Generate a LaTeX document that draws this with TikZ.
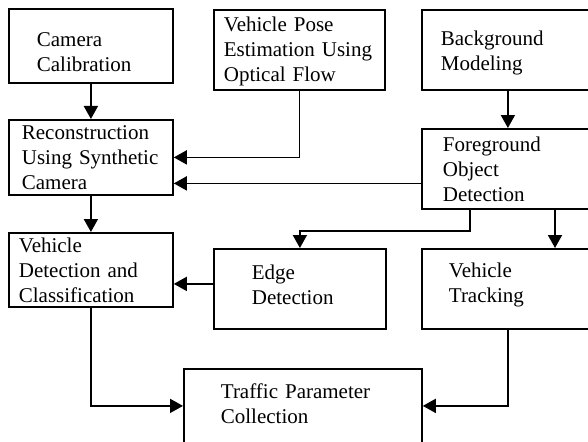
\documentclass[tikz,border=0pt]{standalone}
\usepackage{fontspec}
\setmainfont{Liberation Serif}
\usetikzlibrary{arrows.meta,positioning}

\begin{document}
\begin{tikzpicture}[
  x=1pt, y=-1pt,
  font=\fontsize{21}{25}\selectfont,
  >={Triangle[length=13pt,width=14pt]},
  box/.style={draw, line width=1.8pt, anchor=north west, align=left, inner sep=0pt},
  link/.style={->, line width=1.8pt}
]

\useasboundingbox (0,0) rectangle (588,441);
\clip (0,0) rectangle (588,441);

\node[box, minimum width=164pt, minimum height=74pt, text width=108pt, text height=26pt] (camera) at (8,8) {Camera\\Calibration};
\node[box, minimum width=171pt, minimum height=80pt, text width=151pt, text height=18pt] (pose) at (213,9) {Vehicle Pose\\Estimation Using\\Optical Flow};
\node[box, minimum width=172pt, minimum height=80pt, text width=134pt, text height=20pt] (bg) at (421,9) {Background\\Modeling};
\node[box, minimum width=164pt, minimum height=75pt, text width=138pt] (recon) at (8,119) {Reconstruction\\Using Synthetic\\Camera};
\node[box, minimum width=172pt, minimum height=80pt, text width=130pt] (fg) at (421,128) {Foreground\\Object\\Detection};
\node[box, minimum width=164pt, minimum height=74pt, text width=144pt] (vdc) at (8,232) {Vehicle\\Detection and\\Classification};
\node[box, minimum width=172pt, minimum height=80pt, text width=96pt, text depth=33pt] (edge) at (213,248) {Edge\\Detection};
\node[box, minimum width=172pt, minimum height=80pt, text width=118pt, text depth=38pt] (track) at (421,248) {Vehicle\\Tracking};
\node[box, minimum width=238pt, minimum height=90pt, text width=164pt, text depth=45pt] (traffic) at (183,368) {Traffic Parameter\\Collection};

\coordinate (fgin) at ([yshift=-26pt]recon.east);
\coordinate (edgeout) at ([yshift=5pt]edge.west);
\coordinate (tin) at ([yshift=8pt]traffic.west);

\draw[link] (camera.south) -- (recon.north);
\draw[link] (pose.south) |- (recon.east);
\draw[link] (fg.west |- fgin) -- (fgin);
\draw[link] (recon.south) -- (vdc.north);
\draw[link] (bg.south) -- (fg.north);
\draw[link] ([xshift=49pt]fg.south west) -- ++(0,21) -| (edge.north);
\draw[link] ([xshift=134pt]fg.south west) -- ([xshift=134pt]track.north west);
\draw[link] (edgeout) -- (vdc.east |- edgeout);
\draw[link] (vdc.south) |- (tin);
\draw[link] (track.south) |- (traffic.east |- tin);

\end{tikzpicture}
\end{document}
